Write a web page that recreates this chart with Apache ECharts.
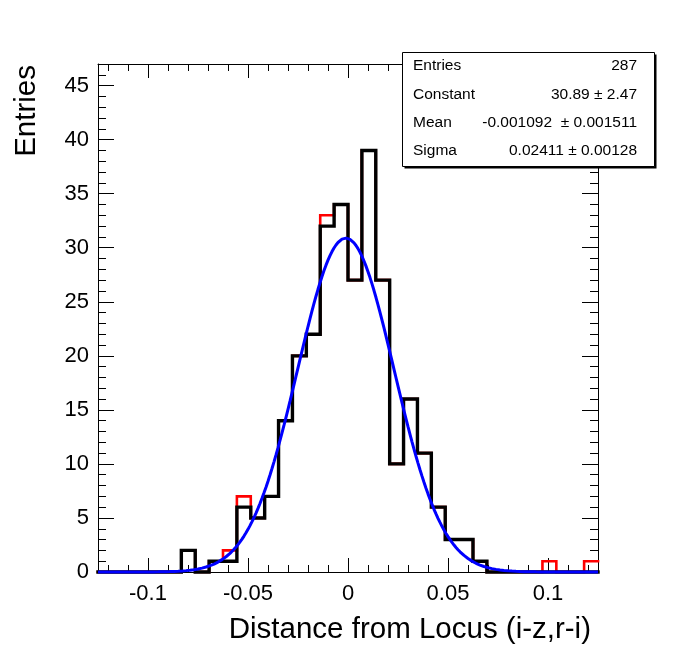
<!DOCTYPE html>
<html><head><meta charset="utf-8">
<script src="https://cdn.jsdelivr.net/npm/echarts@6/dist/echarts.min.js"></script>
<style>html,body{margin:0;padding:0;background:#fff}#c{width:696px;height:652px}</style>
</head><body><div id="c"></div>
<script>
// ---- data ----
const xRange = [-0.125, 0.125];
const nBins = 36;
const yRange = [0, 47];
const blackCounts = [0,0,0,0,0,0,2,0,1,1,6,5,7,14,20,22,32,34,27,39,27,10,16,11,6,3,3,1,0,0,0,0,0,0,0,0];
const redCounts   = [0,0,0,0,0,0,2,0,1,2,7,5,7,14,20,22,33,34,27,39,27,10,16,11,6,3,3,1,0,0,0,0,1,0,0,1];
// Gaussian fit parameters shown in the stats box
const fitConstant = 30.89, fitMean = -0.001092, fitSigma = 0.02411;
const fitSamples = 250;
const xMajorTicks = [-0.1, -0.05, 0, 0.05, 0.1];
const xMinorTicks = [-0.12,-0.11,-0.1,-0.09,-0.08,-0.07,-0.06,-0.05,-0.04,-0.03,-0.02,-0.01,0,0.01,0.02,0.03,0.04,0.05,0.06,0.07,0.08,0.09,0.1,0.11,0.12];
const xTickLabels = ['-0.1', '-0.05', '0', '0.05', '0.1'];
const yMajorTicks = [0,5,10,15,20,25,30,35,40,45];
const yMinorTicks = [0,1,2,3,4,5,6,7,8,9,10,11,12,13,14,15,16,17,18,19,20,21,22,23,24,25,26,27,28,29,30,31,32,33,34,35,36,37,38,39,40,41,42,43,44,45,46,47];
const statsNames = ['Entries', 'Constant', 'Mean', 'Sigma'];
const statsValues = ['287', '30.89 \u00b1 2.47', '-0.001092  \u00b1 0.001511', '0.02411 \u00b1 0.00128'];
const xTitle = 'Distance from Locus (i-z,r-i)';
const yTitle = 'Entries';

// ---- build ----
const FONT = '"Liberation Sans", Arial, Helvetica, sans-serif';
const binW = (xRange[1] - xRange[0]) / nBins;
function stepData(counts) {
  const d = counts.map((c, k) => [xRange[0] + k * binW, c]);
  d.push([xRange[1], counts[counts.length - 1]]);
  return d;
}
const fitData = [];
for (let i = 0; i <= fitSamples; i++) {
  const x = xRange[0] + (xRange[1] - xRange[0]) * i / fitSamples;
  fitData.push([x, fitConstant * Math.exp(-0.5 * Math.pow((x - fitMean) / fitSigma, 2))]);
}
const black = '#000';
function xAx(pos, ticks, len, showLine, showLabel) {
  return {
    type: 'value', min: xRange[0], max: xRange[1], position: pos,
    axisLine: { show: showLine, onZero: false, lineStyle: { color: black, width: 1 } },
    axisTick: { show: true, inside: true, length: len, customValues: ticks, lineStyle: { color: black, width: 1 } },
    axisLabel: showLabel ? { show: true, customValues: xMajorTicks,
      formatter: v => { const i = xMajorTicks.findIndex(t => Math.abs(t - v) < 1e-9); return i >= 0 ? xTickLabels[i] : ''; },
      fontSize: 22, color: black, fontFamily: FONT, margin: 11 } : { show: false },
    splitLine: { show: false }
  };
}
function yAx(pos, ticks, len, showLine, showLabel) {
  return {
    type: 'value', min: yRange[0], max: yRange[1], position: pos,
    axisLine: { show: showLine, onZero: false, lineStyle: { color: black, width: 1 } },
    axisTick: { show: true, inside: true, length: len, customValues: ticks, lineStyle: { color: black, width: 1 } },
    axisLabel: showLabel ? { show: true, customValues: yMajorTicks, formatter: v => String(v),
      fontSize: 22, color: black, fontFamily: FONT, margin: 9 } : { show: false },
    splitLine: { show: false }
  };
}
const graphic = [
  { type: 'rect', z: 100, shape: { x: 404.5, y: 54.5, width: 252, height: 114 }, style: { fill: '#000' } },
  { type: 'rect', z: 101, shape: { x: 402.5, y: 52.5, width: 252, height: 114 }, style: { fill: '#fff', stroke: '#000', lineWidth: 1 } },
  { type: 'text', z: 102, x: 591, y: 630, style: { text: xTitle, font: '29.5px ' + FONT, fill: black, align: 'right', verticalAlign: 'middle' } },
  { type: 'text', z: 102, x: 27, y: 65, rotation: Math.PI / 2, style: { text: yTitle, font: '29.5px ' + FONT, fill: black, align: 'right', verticalAlign: 'middle' } }
];
const rowY = [66, 94.5, 123, 151];
statsNames.forEach((n, i) => {
  graphic.push({ type: 'text', z: 102, x: 413, y: rowY[i], style: { text: n, font: '15.5px ' + FONT, fill: black, align: 'left', verticalAlign: 'middle' } });
  graphic.push({ type: 'text', z: 102, x: 637, y: rowY[i], style: { text: statsValues[i], font: '15.5px ' + FONT, fill: black, align: 'right', verticalAlign: 'middle' } });
});

const chart = echarts.init(document.getElementById('c'), null, { renderer: 'canvas' });
chart.setOption({
  animation: false,
  backgroundColor: '#fff',
  grid: { left: 98, right: 98, top: 64, bottom: 80, containLabel: false },
  xAxis: [ xAx('bottom', xMajorTicks, 14, true, true), xAx('bottom', xMinorTicks, 7, false, false),
           xAx('top', xMajorTicks, 14, true, false), xAx('top', xMinorTicks, 7, false, false) ],
  yAxis: [ yAx('left', yMajorTicks, 16, true, true), yAx('left', yMinorTicks, 8, false, false),
           yAx('right', yMajorTicks, 16, true, false), yAx('right', yMinorTicks, 8, false, false) ],
  series: [
    { type: 'line', step: 'end', data: stepData(redCounts), symbol: 'none', clip: false, z: 2,
      lineStyle: { color: '#ff0000', width: 2.6, join: 'miter', cap: 'square' } },
    { type: 'line', step: 'end', data: stepData(blackCounts), symbol: 'none', clip: false, z: 3,
      lineStyle: { color: '#000000', width: 3.4, join: 'miter', cap: 'square' } },
    { type: 'line', data: fitData, symbol: 'none', clip: false, z: 4, smooth: false,
      lineStyle: { color: '#0000ff', width: 3 } }
  ],
  graphic: graphic
});
</script></body></html>
